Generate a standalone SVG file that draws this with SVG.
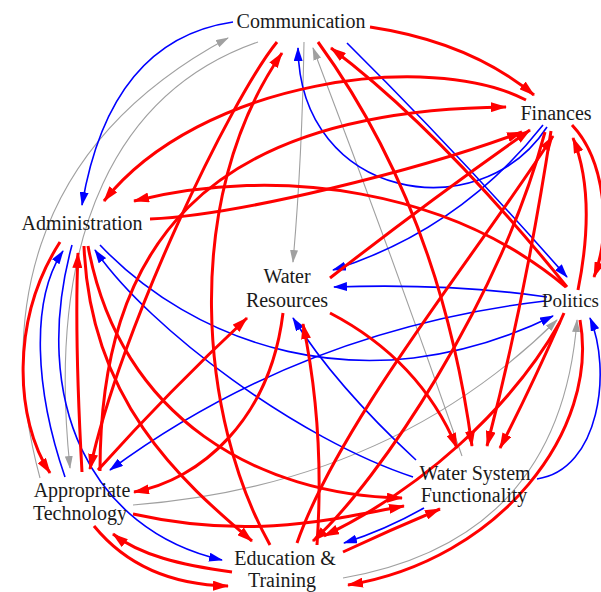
<svg xmlns="http://www.w3.org/2000/svg" width="601" height="592" viewBox="0 0 601 592">
<style>
.lbl{font-family:"Liberation Serif","Times New Roman",serif;font-size:20px;fill:#1a1a1a;text-anchor:middle}
.r{fill:none;stroke:#ff0000;stroke-width:3;marker-end:url(#ar)}
.b{fill:none;stroke:#0000ff;stroke-width:1.6;marker-end:url(#ab)}
.g{fill:none;stroke:#a0a0a0;stroke-width:1.1;marker-end:url(#ag)}
</style>
<defs>
<marker id="ar" viewBox="0 0 16 10" refX="15" refY="5" markerWidth="16" markerHeight="10" orient="auto" markerUnits="userSpaceOnUse"><path d="M0,0 L16,5 L0,10 z" fill="#ff0000"/></marker>
<marker id="ab" viewBox="0 0 14 9" refX="13" refY="4.5" markerWidth="14" markerHeight="9" orient="auto" markerUnits="userSpaceOnUse"><path d="M0,0 L14,4.5 L0,9 z" fill="#0000ff"/></marker>
<marker id="ag" viewBox="0 0 13 8" refX="12" refY="4" markerWidth="13" markerHeight="8" orient="auto" markerUnits="userSpaceOnUse"><path d="M0,0 L13,4 L0,8 z" fill="#a0a0a0"/></marker>
</defs>
<rect width="601" height="592" fill="#ffffff"/>
<g id="connectors">
<path class="g" d="M40,478 C0,330 20,150 228,38"/>
<path class="g" d="M258,42 C120,90 45,230 70,468"/>
<path class="g" d="M304,42 Q302,160 293,262"/>
<path class="g" d="M462,456 Q392,255 313,48"/>
<path class="g" d="M133,505 Q390,485 557,320"/>
<path class="g" d="M343,578 Q560,540 577,320"/>
<path class="b" d="M233,22 Q110,40 82,205"/>
<path class="b" d="M547,127 C480,230 300,200 298,48"/>
<path class="b" d="M543,125 Q460,230 333,270"/>
<path class="b" d="M347,43 Q455,150 567,277"/>
<path class="b" d="M547,297 Q450,283 334,287"/>
<path class="b" d="M545,301 Q300,330 110,470"/>
<path class="b" d="M100,245 C190,340 360,410 553,316"/>
<path class="b" d="M413,477 C300,440 150,330 95,250"/>
<path class="b" d="M416,460 Q335,385 293,318"/>
<path class="b" d="M65,477 C35,390 30,300 63,251"/>
<path class="b" d="M72,245 C30,400 90,530 222,560"/>
<path class="b" d="M424,508 Q385,530 344,543"/>
<path class="b" d="M537,479 C600,470 612,370 590,318"/>
<path class="r" d="M370,27 Q470,42 534,95"/>
<path class="r" d="M526,100 C430,50 200,80 104,201"/>
<path class="r" d="M150,219 C240,215 420,170 522,132"/>
<path class="r" d="M100,471 C100,250 200,110 506,107"/>
<path class="r" d="M330,278 Q430,200 530,130"/>
<path class="r" d="M566,287 C450,190 280,165 134,201"/>
<path class="r" d="M567,287 Q440,130 331,48"/>
<path class="r" d="M318,42 Q440,210 472,446"/>
<path class="r" d="M551,131 Q525,300 487,446"/>
<path class="r" d="M564,313 Q530,390 500,448"/>
<path class="r" d="M330,313 Q420,360 457,448"/>
<path class="r" d="M88,246 C120,420 260,495 402,498"/>
<path class="r" d="M133,514 C250,540 330,520 404,506"/>
<path class="r" d="M572,125 C605,160 612,230 594,277"/>
<path class="r" d="M578,290 C590,230 590,180 573,138"/>
<path class="r" d="M60,242 C10,320 15,420 50,473"/>
<path class="r" d="M82,472 C78,400 75,320 78,253"/>
<path class="r" d="M277,42 C230,100 120,330 90,469"/>
<path class="r" d="M270,545 C200,420 180,200 282,53"/>
<path class="r" d="M84,246 C90,400 180,480 252,541"/>
<path class="r" d="M283,313 C270,420 200,480 134,492"/>
<path class="r" d="M98,470 Q170,390 247,318"/>
<path class="r" d="M317,545 Q325,430 303,324"/>
<path class="r" d="M232,572 C180,565 140,555 113,534"/>
<path class="r" d="M94,526 C130,570 180,585 228,586"/>
<path class="r" d="M343,552 Q390,530 440,509"/>
<path class="r" d="M580,320 C600,430 500,560 348,585"/>
<path class="r" d="M545,132 C500,300 380,480 313,541"/>
<path class="r" d="M297,543 C340,420 480,250 553,136"/>
<path class="r" d="M560,322 C510,410 420,490 324,536"/>
</g>
<g id="communication"><text class="lbl" x="301" y="28">Communication</text></g>
<g id="finances"><text class="lbl" x="556" y="120">Finances</text></g>
<g id="administration"><text class="lbl" x="82" y="230">Administration</text></g>
<g id="water-resources"><text class="lbl" x="287" y="283">Water</text><text class="lbl" x="287" y="307">Resources</text></g>
<g id="politics"><text class="lbl" x="542" y="307" style="text-anchor:start;font-size:19px">Politics</text></g>
<g id="appropriate-technology"><text class="lbl" x="82" y="497">Appropriate</text><text class="lbl" x="80" y="520">Technology</text></g>
<g id="water-system-functionality"><text class="lbl" x="475" y="480">Water System</text><text class="lbl" x="474" y="502">Functionality</text></g>
<g id="education-training"><text class="lbl" x="285" y="565">Education &amp;</text><text class="lbl" x="282" y="587">Training</text></g>
</svg>
